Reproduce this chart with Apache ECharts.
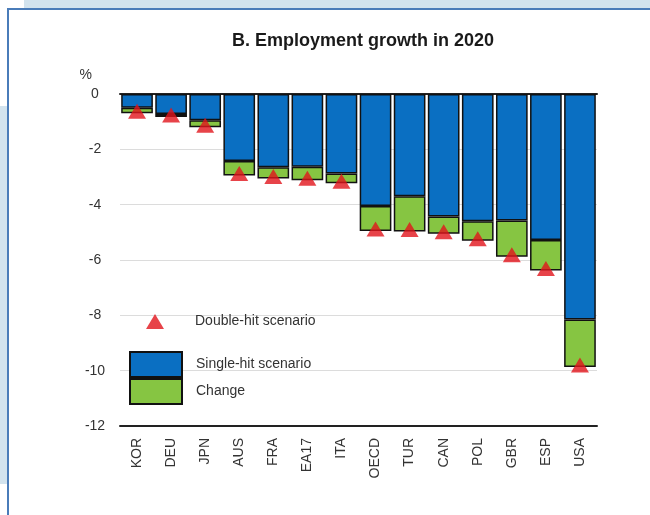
<!DOCTYPE html>
<html style="height: 100%">
<head>
    <meta charset="utf-8">
    <script src="https://cdn.jsdelivr.net/npm/echarts@6/dist/echarts.min.js"></script>
</head>
<body style="height: 100%;margin: 0;background: #fff">
<div id="chart" style="width: 650px;height: 515px;"></div>
<script type="text/javascript">
// 国家 / 地区
var countries = ['KOR', 'DEU', 'JPN', 'AUS', 'FRA', 'EA17', 'ITA', 'OECD', 'TUR', 'CAN', 'POL', 'GBR', 'ESP', 'USA'];
// 单次冲击情景 (%)
var singleHit = [-0.5, -0.72, -0.95, -2.42, -2.65, -2.63, -2.87, -4.05, -3.7, -4.43, -4.6, -4.57, -5.28, -8.15];
// 双次冲击情景 (%)
var doubleHit = [-0.7, -0.83, -1.2, -2.95, -3.05, -3.12, -3.23, -4.95, -4.97, -5.05, -5.3, -5.88, -6.38, -9.87];
var yTicks = [0, -2, -4, -6, -8, -10, -12];

// 差值 = 双次 - 单次
var change = doubleHit.map(function (v, i) {
    return Math.round((v - singleHit[i]) * 100) / 100;
});

var font = 'Liberation Sans, Arial, sans-serif';
var myChart = echarts.init(document.getElementById('chart'));

var option = {
    animation: false,
    textStyle: {fontFamily: font},
    title: {
        text: 'B. Employment growth in 2020',
        left: 358,
        top: 27,
        textAlign: 'center',
        textStyle: {fontSize: 18, fontWeight: 'bold', color: '#1a1a1a', fontFamily: font}
    },
    // 背景装饰
    graphic: [
        {type: 'rect', shape: {x: 24, y: 0, width: 626, height: 8}, style: {fill: '#d2e3ee'}, silent: true},
        {type: 'rect', shape: {x: 0, y: 106, width: 7, height: 378}, style: {fill: '#d2e3ee'}, silent: true},
        {type: 'line', shape: {x1: 7, y1: 9, x2: 650, y2: 9}, style: {stroke: '#4a7cb9', lineWidth: 2}, silent: true},
        {type: 'line', shape: {x1: 8, y1: 8, x2: 8, y2: 515}, style: {stroke: '#4a7cb9', lineWidth: 2}, silent: true}
    ],
    legend: [
        {
            data: ['Double-hit scenario'],
            left: 146,
            top: 314,
            padding: 0,
            itemWidth: 18,
            itemHeight: 15,
            textStyle: {fontSize: 14, color: '#333', fontFamily: font, padding: [0, 0, 0, 26]}
        },
        {
            data: ['Single-hit scenario', 'Change'],
            orient: 'vertical',
            left: 129,
            top: 351,
            padding: 0,
            itemGap: 0,
            icon: 'rect',
            itemWidth: 52,
            itemHeight: 25,
            textStyle: {fontSize: 14, color: '#333', fontFamily: font, padding: [0, 0, 0, 9]}
        }
    ],
    grid: {left: 120, right: 53, top: 94, bottom: 89, containLabel: false},
    xAxis: [
        {
            type: 'category',
            data: countries,
            position: 'bottom',
            axisLine: {onZero: false, lineStyle: {color: '#222', width: 2}},
            axisTick: {show: false},
            axisLabel: {rotate: 90, fontSize: 14, color: '#333', margin: 12, interval: 0, fontFamily: font}
        },
        {
            type: 'category',
            data: countries,
            position: 'top',
            axisLine: {onZero: false, lineStyle: {color: '#222', width: 2}},
            axisTick: {show: false},
            axisLabel: {show: false}
        }
    ],
    yAxis: {
        type: 'value',
        min: -12,
        max: 0,
        interval: 2,
        name: '%',
        nameLocation: 'end',
        nameGap: 19,
        nameTextStyle: {fontSize: 14, color: '#333', align: 'right', verticalAlign: 'middle', padding: [0, 28, 0, 0]},
        axisLine: {show: false},
        axisTick: {show: false},
        axisLabel: {
            fontSize: 14, color: '#333', margin: 25, align: 'center', fontFamily: font,
            formatter: function (v) { return yTicks.indexOf(v) >= 0 ? String(v) : ''; }
        },
        splitLine: {lineStyle: {color: '#dcdcdc', width: 1}}
    },
    series: [
        {
            name: 'Single-hit scenario',
            type: 'bar',
            stack: 'emp',
            data: singleHit,
            barCategoryGap: '7%',
            itemStyle: {color: '#0a6fc2', borderColor: '#111', borderWidth: 1.5}
        },
        {
            name: 'Change',
            type: 'bar',
            stack: 'emp',
            data: change,
            itemStyle: {color: '#86c542', borderColor: '#111', borderWidth: 1.5}
        },
        {
            name: 'Double-hit scenario',
            type: 'scatter',
            data: doubleHit,
            symbol: 'triangle',
            symbolSize: [18, 15],
            symbolOffset: [0, -2],
            z: 5,
            itemStyle: {color: '#e1141c'}
        }
    ]
};
myChart.setOption(option);
</script>
</body>
</html>
